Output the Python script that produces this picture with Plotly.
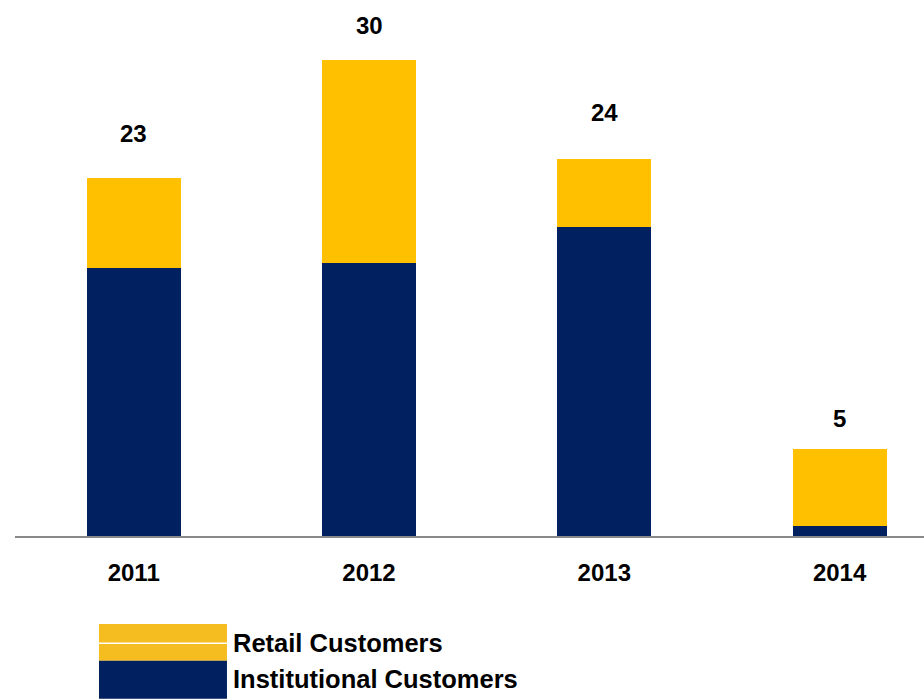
import plotly.graph_objects as go

# Customer counts by year, split by customer type
years = ["2011", "2012", "2013", "2014"]
institutional = [16.9, 17.2, 19.45, 0.66]
retail = [5.67, 12.8, 4.26, 4.79]
series_names = ["Retail Customers", "Institutional Customers"]

NAVY = "#002060"
GOLD = "#FFC000"
LEGEND_GOLD = "#F5BD1F"
FONT = "Liberation Sans, Arial, sans-serif"

totals = [i + r for i, r in zip(institutional, retail)]
total_labels = [round(t) for t in totals]
# pixel lift of each total label above its value
label_lift = [37, 34, 42, 38]

fig = go.Figure()
fig.add_trace(go.Bar(
    x=years, y=institutional, name=series_names[1],
    marker=dict(color=NAVY, line=dict(width=0)), width=0.4,
))
fig.add_trace(go.Bar(
    x=years, y=retail, name=series_names[0],
    marker=dict(color=GOLD, line=dict(width=0)), width=0.4,
))

# Totals written above each stack (category index positions)
for idx, (lab, lift) in enumerate(zip(total_labels, label_lift)):
    fig.add_annotation(
        x=idx, y=lab, text=str(lab), showarrow=False, yshift=lift,
        font=dict(family=FONT, size=24, color="#000000", weight="bold"),
    )

# Custom legend block below the axis
swatch_x0, swatch_x1 = 0.0924, 0.2332
fig.add_shape(type="rect", xref="paper", yref="paper",
              x0=swatch_x0, x1=swatch_x1, y0=-0.2326, y1=-0.1642,
              fillcolor=LEGEND_GOLD, line=dict(width=0), layer="above")
fig.add_shape(type="line", xref="paper", yref="paper",
              x0=swatch_x0, x1=swatch_x1, y0=-0.2002, y1=-0.2002,
              line=dict(color="#FFFFFF", width=1.5), layer="above")
fig.add_shape(type="rect", xref="paper", yref="paper",
              x0=swatch_x0, x1=swatch_x1, y0=-0.3035, y1=-0.2326,
              fillcolor=NAVY, line=dict(width=0), layer="above")
for name, yc in zip(series_names, [-0.199, -0.266]):
    fig.add_annotation(
        xref="paper", yref="paper", x=0.2372, y=yc, text=name,
        showarrow=False, xanchor="left", yanchor="middle",
        font=dict(family=FONT, size=25.5, color="#000000", weight="bold"),
    )

fig.update_layout(
    barmode="stack",
    width=924, height=699,
    margin=dict(l=15, r=0, t=0, b=163),
    paper_bgcolor="white", plot_bgcolor="white",
    showlegend=False,
    font=dict(family=FONT),
    xaxis=dict(
        type="category", range=[-0.5045, 3.3587],
        showline=True, linecolor="#898989", linewidth=2,
        showgrid=False, ticks="", zeroline=False,
        tickfont=dict(family=FONT, size=24, color="#000000", weight="bold"),
        ticklabelstandoff=14,
    ),
    yaxis=dict(
        range=[0, 33.75], visible=False, showgrid=False, zeroline=False,
    ),
)

fig.write_html("out.html")
